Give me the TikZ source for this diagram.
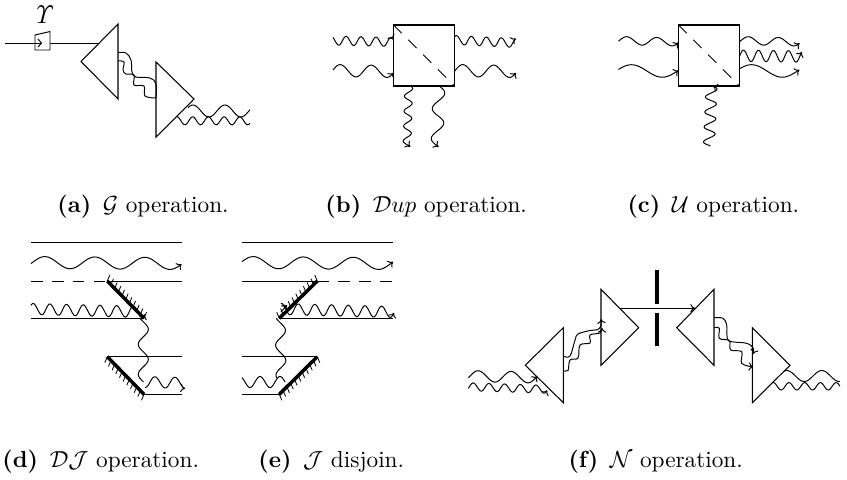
\documentclass[tikz,border=0pt]{standalone}
\usetikzlibrary{calc,arrows.meta}
\newlength\pxu \setlength\pxu{0.43pt}
\tikzset{x=\pxu,y=-\pxu,
 every path/.append style={line width=0.42pt},
 wavy/.style={line width=0.42pt,line join=round},
 wavearrow/.style={wavy,-{To[length=2pt,width=3.6pt]}},
 tri/.style={draw,line width=0.45pt,line join=miter},
 mirror bar/.style={line width=1.5pt},
 hatchline/.style={line width=0.35pt},
 captext/.style={inner sep=0pt,anchor=base west,font=\fontsize{10}{12}\selectfont}
}
% \wv[style]{from}{to}{period px}{amp px}{phase deg}
\newcommand\wv[6][wavy]{%
 \draw[#1] let \p1=(#2),\p2=(#3),\n1={veclen(\x2-\x1,\y2-\y1)} in
 plot[variable=\t,domain=0:1,samples=70,smooth]
 ({\x1+(\x2-\x1)*\t-(\y2-\y1)/\n1*#5*0.43*sin(360*\t*(\n1/(#4*0.43))+#6)},
  {\y1+(\y2-\y1)*\t-(\x2-\x1)/\n1*#5*0.43*sin(360*\t*(\n1/(#4*0.43))+#6)});}
% \hatchon{from}{to}{dx}{dy}: short ticks along a mirror
\newcommand\hatchon[4]{%
 \foreach \s in {0,0.1,...,1.01}{\draw[hatchline] ($(#1)!\s!(#2)$) -- ++(#3,#4);}}
\begin{document}
\begin{tikzpicture}
\useasboundingbox (0,0) rectangle (847,479);
% ===== a
\coordinate (a0) at (5,43); \coordinate (a1) at (98,43);
\draw (a0) -- (a1);
\node[inner sep=0pt] (aU) at (43,14.5) {\fontsize{11}{11}\selectfont$\mathit{\Upsilon}$};
\draw[line join=miter,fill=white] (35,35) -- (50,31.5) -- (50,50) -- (35,50) -- cycle;
\draw (38,39) -- (41.5,43) -- (38,47);
\draw (35,43) -- (41.5,43);
\draw[tri] (118,24) -- (118,99) -- (81,61.5) -- cycle;
\draw[tri] (156,62) -- (156,137) -- (194,99) -- cycle;
\draw[wavy] plot[smooth,tension=.6] coordinates {(118,52.5) (126,53) (131,60) (132,72) (136,77) (150,78) (156,84) (156,98)};
\draw[wavy] plot[smooth,tension=.6] coordinates {(118,61) (124,62) (123,70) (126,74) (134,75) (134,85) (144,86) (145,96) (156,98)};
\coordinate (a2) at (188,111); \coordinate (a3) at (250,111);
\wv{a2}{a3}{32}{6}{215}
\coordinate (a4) at (177,120.8); \coordinate (a5) at (250,120.8);
\wv{a4}{a5}{15.7}{4}{270}
% ===== b
\coordinate (bTL) at (393.5,25); \coordinate (bBR) at (454.5,86);
\draw[tri] (bTL) rectangle (bBR);
\draw[dash pattern=on 5pt off 4pt] (bTL) -- (bBR);
\coordinate (b1) at (333,40.5); \coordinate (b2) at (393.5,42);
\wv[wavearrow]{b1}{b2}{15}{4.5}{-45}
\coordinate (b3) at (333,70.5); \coordinate (b4) at (393.5,71.5);
\wv[wavearrow]{b3}{b4}{31}{6}{185}
\coordinate (b5) at (454.5,40); \coordinate (b6) at (516,43);
\wv[wavearrow]{b5}{b6}{15}{4.5}{220}
\coordinate (b7) at (454.5,70.5); \coordinate (b8) at (516,71.5);
\wv[wavearrow]{b7}{b8}{31}{6}{173}
\coordinate (b9) at (408.7,86); \coordinate (b10) at (407,147);
\wv[wavearrow]{b9}{b10}{15}{4}{30}
\coordinate (b11) at (439,86); \coordinate (b12) at (437,147);
\wv[wavearrow]{b11}{b12}{30}{6}{2}
% ===== c
\coordinate (cTL) at (678.5,25); \coordinate (cBR) at (739.5,86);
\draw[tri] (cTL) rectangle (cBR);
\draw[dash pattern=on 5pt off 4pt] (cTL) -- (cBR);
\coordinate (c1) at (618.5,40.5); \coordinate (c2) at (678.5,42);
\wv[wavearrow]{c1}{c2}{30}{4}{170}
\coordinate (c3) at (618.5,70.5); \coordinate (c4) at (678.5,71.5);
\wv[wavearrow]{c3}{c4}{60}{6}{190}
\coordinate (c5) at (739.5,40.5); \coordinate (c6) at (799.5,42);
\wv[wavearrow]{c5}{c6}{30}{4}{162}
\coordinate (c7) at (739.5,55.7); \coordinate (c8) at (802,56.5);
\wv[wavearrow]{c7}{c8}{15}{5.7}{174}
\coordinate (c9) at (739.5,70.5); \coordinate (c10) at (799.5,71.5);
\wv[wavearrow]{c9}{c10}{60}{6}{196}
\coordinate (c11) at (709,146); \coordinate (c12) at (711.5,86);
\wv[wavearrow]{c11}{c12}{15}{5.7}{-14}
% ===== d
\coordinate (d1) at (31,242.7); \coordinate (d2) at (182.3,242.7);
\draw (d1) -- (d2);
\coordinate (d3) at (31,262.5); \coordinate (d4) at (181.7,263.5);
\wv[wavearrow]{d3}{d4}{50}{6}{170}
\coordinate (d5) at (31,281); \coordinate (d6) at (107.3,281); \coordinate (d7) at (182.3,281);
\draw[dash pattern=on 5pt off 4pt] (d5) -- (d6);
\draw (d6) -- (d7);
\coordinate (d8) at (144,318.3); \coordinate (d9) at (31,318.3);
\draw (d9) -- (d8);
\hatchon{d6}{d8}{2.5}{-6}
\draw[mirror bar] (d6) -- (d8);
\coordinate (d10) at (31,309); \coordinate (d11) at (145,312);
\wv[wavearrow]{d10}{d11}{16.7}{5.7}{-140}
\coordinate (d12) at (143.3,318.3); \coordinate (d13) at (143.3,382);
\wv{d12}{d13}{30}{5}{-42}
\coordinate (d14) at (145,382); \coordinate (d15) at (185,383);
\wv[wavearrow]{d14}{d15}{20}{5.5}{90}
\coordinate (d16) at (107.3,356.7); \coordinate (d17) at (182.3,356.7);
\draw (d16) -- (d17);
\coordinate (d18) at (144,394.3); \coordinate (d19) at (182.3,394.3);
\draw (d18) -- (d19);
\hatchon{d16}{d18}{-2.5}{6}
\draw[mirror bar] (d16) -- (d18);
% ===== e
\coordinate (e1) at (242,242.7); \coordinate (e2) at (393.3,242.7);
\draw (e1) -- (e2);
\coordinate (e3) at (242,262.5); \coordinate (e4) at (393.3,263.5);
\wv[wavearrow]{e3}{e4}{50}{6}{188}
\coordinate (e5) at (242,281); \coordinate (e6) at (317.3,281); \coordinate (e7) at (393.3,281);
\draw (e5) -- (e6);
\draw[dash pattern=on 5pt off 4pt] (e6) -- (e7);
\coordinate (e8) at (279.3,318.3); \coordinate (e9) at (393.3,318.3);
\draw (e8) -- (e9);
\hatchon{e8}{e6}{-2.5}{-6}
\draw[mirror bar] (e8) -- (e6);
\coordinate (e10) at (281,309); \coordinate (e11) at (394,312);
\wv[wavearrow]{e10}{e11}{16.7}{5.7}{-103}
\coordinate (e20) at (281,312); \coordinate (e21) at (287,305);
\draw[wavearrow] (e20) -- (e21);
\coordinate (e12) at (280.3,318.3); \coordinate (e13) at (281,378);
\wv{e12}{e13}{30}{5}{-54}
\coordinate (e14) at (242,382); \coordinate (e15) at (285,382);
\wv{e14}{e15}{20}{5.5}{-54}
\coordinate (e16) at (242,356.7); \coordinate (e17) at (317.3,356.7);
\draw (e16) -- (e17);
\coordinate (e18) at (242,394.3); \coordinate (e19) at (279.3,394.3);
\draw (e18) -- (e19);
\hatchon{e19}{e17}{2.5}{6}
\draw[mirror bar] (e19) -- (e17);
% ===== f
\draw[tri] (563.3,327.7) -- (563.3,402.7) -- (525.3,365.3) -- cycle;
\draw[tri] (601,289.3) -- (601,365.3) -- (638.7,327.7) -- cycle;
\draw[tri] (714,289.3) -- (714,365.3) -- (676.7,327.7) -- cycle;
\draw[tri] (752.3,327.7) -- (752.3,402.7) -- (790,365.3) -- cycle;
\coordinate (f1) at (620,308.3); \coordinate (f2) at (695,308.3);
\draw[wavearrow] (f1) -- (f2);
\coordinate (f3) at (657,270); \coordinate (f4) at (657,304); \coordinate (f5) at (657,312.7); \coordinate (f6) at (657,346);
\draw[mirror bar] (f3) -- (f4);
\draw[mirror bar] (f5) -- (f6);
\coordinate (f7) at (468.3,376); \coordinate (f8) at (537.3,377.5);
\wv[wavearrow]{f7}{f8}{33}{5.5}{161}
\coordinate (f9) at (468.3,386.7); \coordinate (f10) at (547.3,389.3);
\wv[wavearrow]{f9}{f10}{15.7}{4}{155}
\draw[wavearrow] plot[smooth,tension=.6] coordinates {(563.3,356) (570,356) (575,340) (578,334) (590,330.5) (598,329.5) (601,325) (601,319)};
\draw[wavearrow] plot[smooth,tension=.6] coordinates {(563.3,370.5) (568,370.5) (570,360) (578,358) (580,345) (590,343) (590,335) (600,333) (602,328)};
\draw[wavearrow] plot[smooth,tension=.6] coordinates {(714,317.7) (723,318.3) (726.7,325) (727.3,338.3) (731.7,341.7) (746.7,343.3) (753.3,348.3) (753.3,354)};
\draw[wavearrow] plot[smooth,tension=.6] coordinates {(714,327.7) (719.3,328.3) (719.3,338.3) (729.3,340.7) (730.7,350) (741.7,351.7) (741.7,363.3) (753.3,367)};
\coordinate (f11) at (784,376); \coordinate (f12) at (840,376);
\wv{f11}{f12}{35}{5.5}{242}
\coordinate (f13) at (773.3,386.3); \coordinate (f14) at (840,386.3);
\wv{f13}{f14}{15.7}{3.7}{270}
% ===== captions
\node[captext] (ca) at (57,212.5) {\textbf{(a)}\enspace$\mathcal{G}$ operation.};
\node[captext] (cb) at (325,212.5) {\textbf{(b)}\enspace$\mathcal{D}up$ operation.};
\node[captext] (cc) at (627,212.5) {\textbf{(c)}\enspace$\mathcal{U}$ operation.};
\node[captext] (cd) at (2,467.5) {\textbf{(d)}\enspace$\mathcal{DJ}$ operation.};
\node[captext] (ce) at (258,467.5) {\textbf{(e)}\enspace$\mathcal{J}$ disjoin.};
\node[captext] (cf) at (568,467.5) {\textbf{(f)}\enspace$\mathcal{N}$ operation.};
\end{tikzpicture}
\end{document}
